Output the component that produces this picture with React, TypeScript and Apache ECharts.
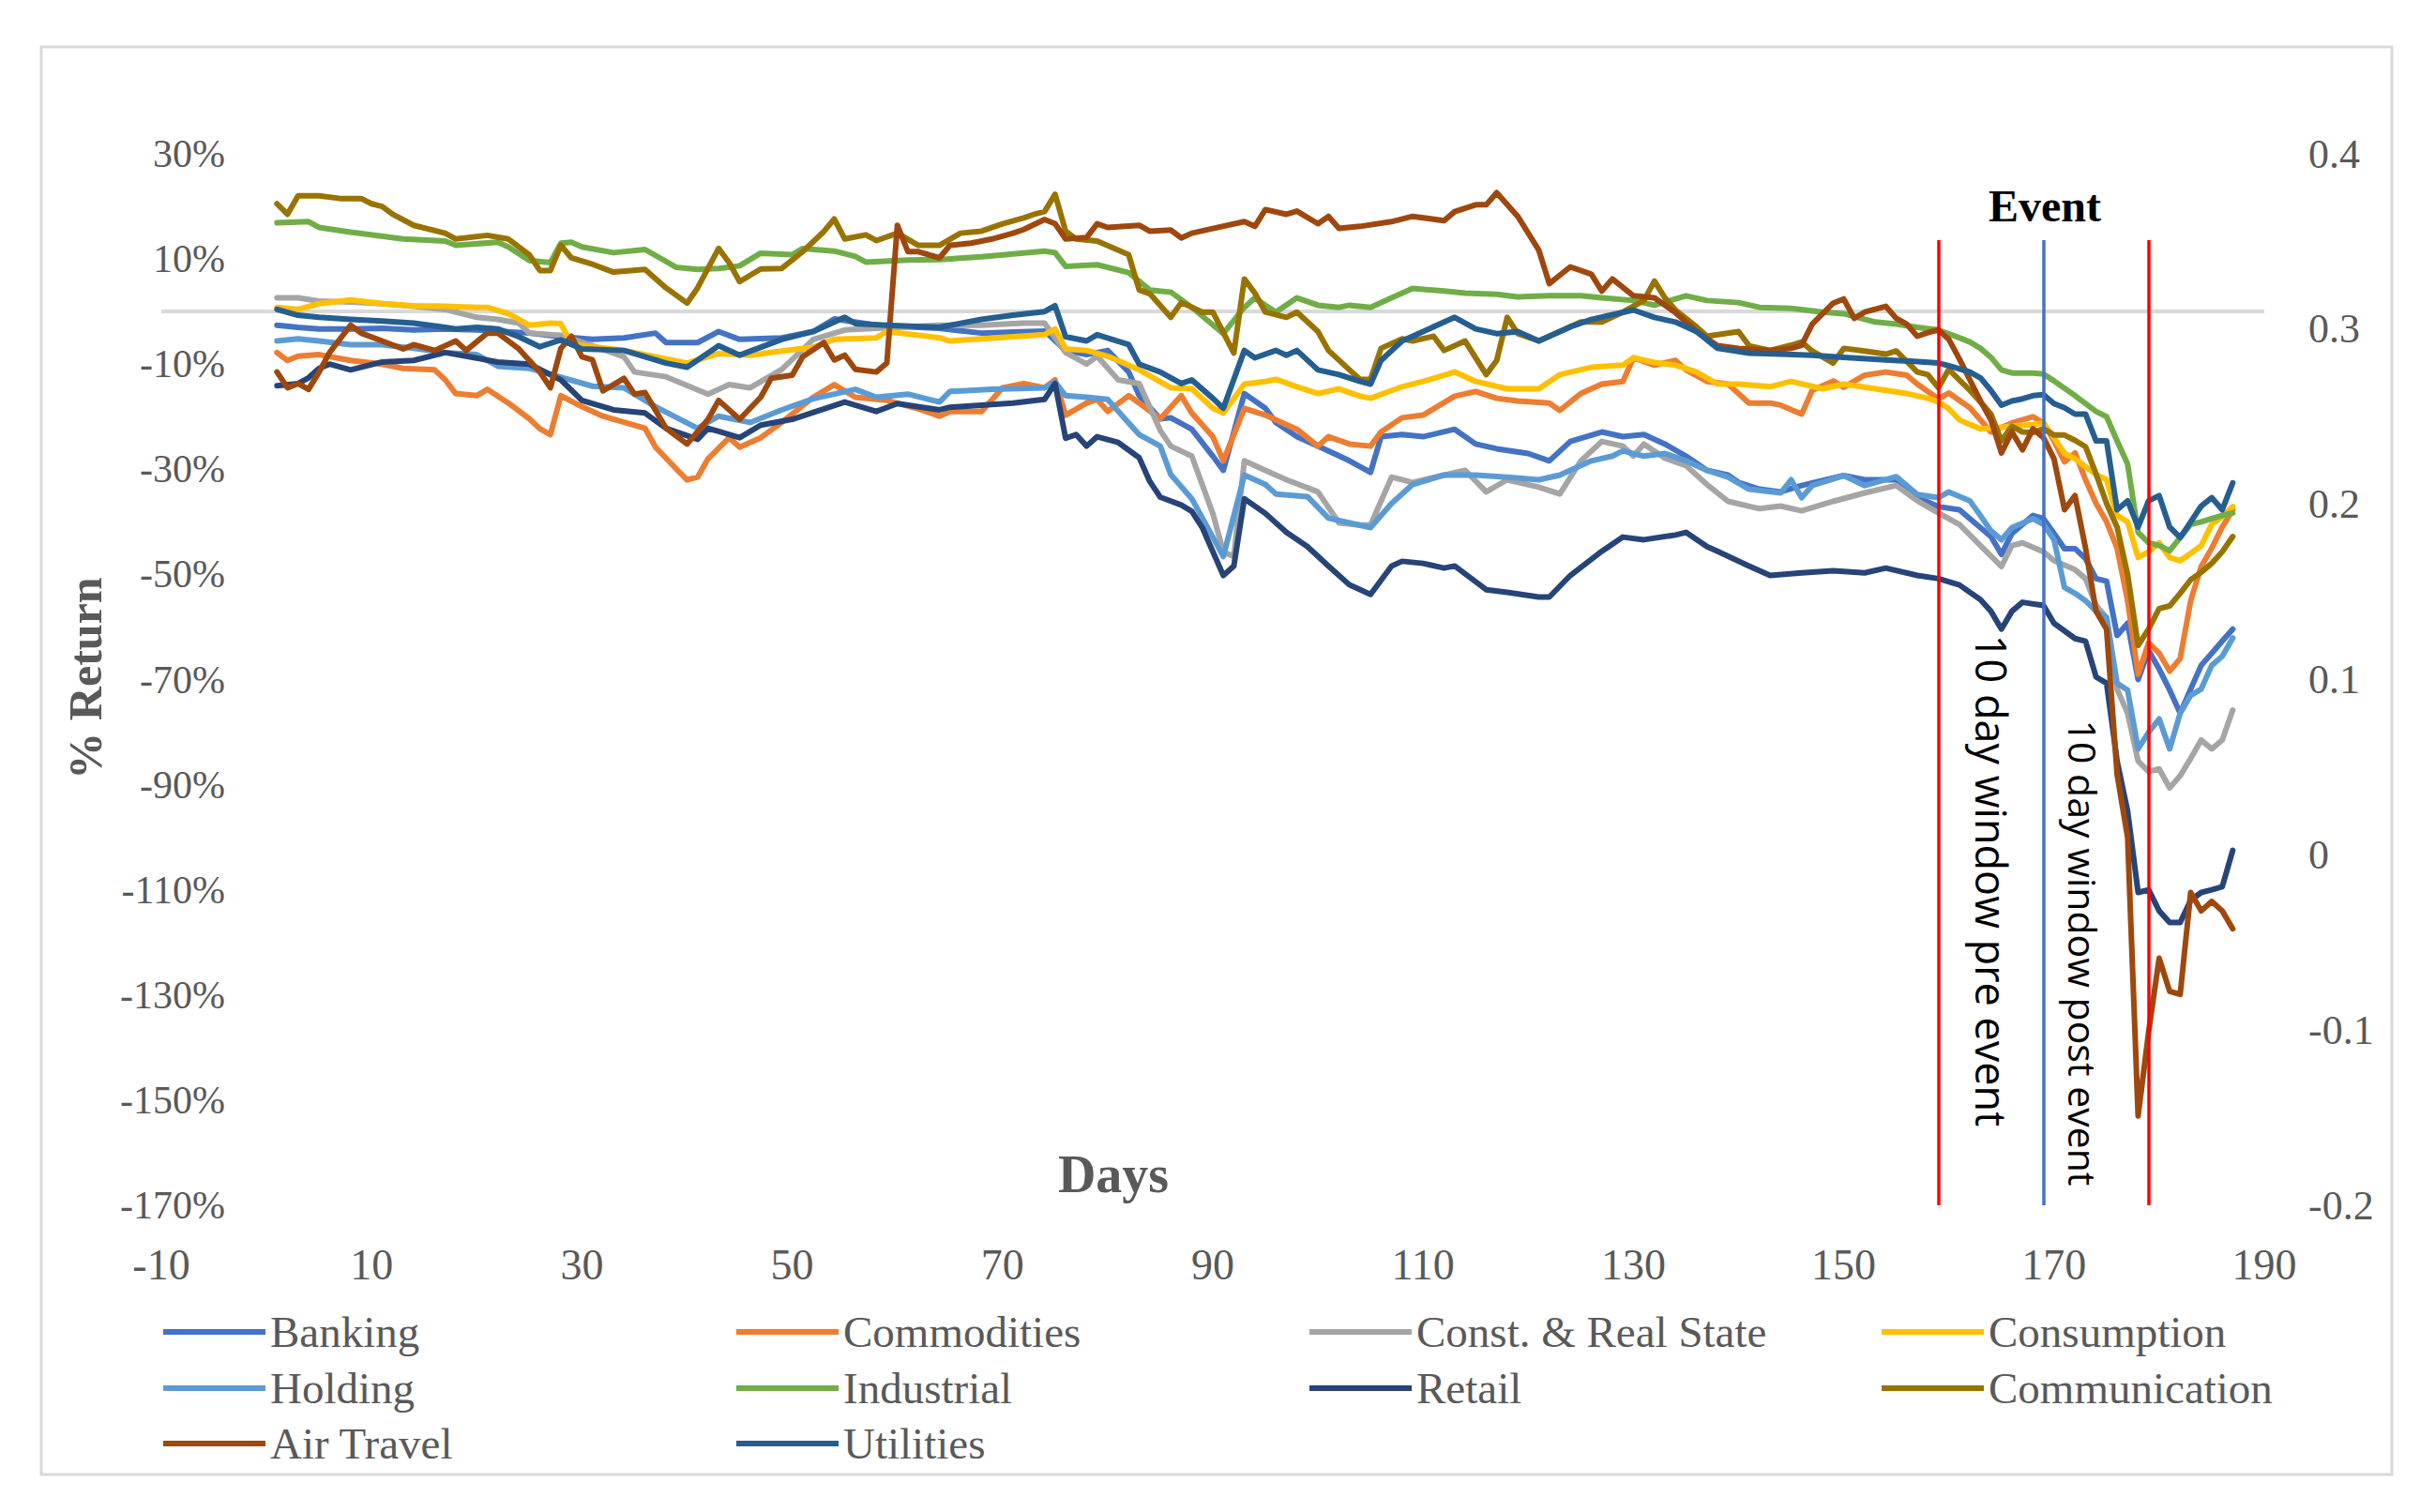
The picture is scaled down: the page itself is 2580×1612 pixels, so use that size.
import React, { useEffect, useRef } from "react";
import * as echarts from "echarts";

const seriesNames = [
  "Banking",
  "Commodities",
  "Const. & Real State",
  "Consumption",
  "Holding",
  "Industrial",
  "Retail",
  "Communication",
  "Air Travel",
  "Utilities",
];
const seriesColors = [
  "#4472C4",
  "#ED7D31",
  "#A5A5A5",
  "#FFC000",
  "#5B9BD5",
  "#70AD47",
  "#264478",
  "#997300",
  "#9E480E",
  "#255E91",
];

const banking = [
  [1, -2.6], [3, -3], [5, -3.3], [8, -3.3], [11, -3.2], [14, -3.5], [17, -3.3], [20, -3.5], [22, -3.7], [25, -4.1],
  [28, -4.8], [31, -5.3], [34, -5], [37, -4.1], [38, -5.9], [41, -5.9], [43, -3.8], [45, -5.3], [49, -5], [52, -3.8],
  [54, -1.4], [58, -2.6], [61, -2.9], [64, -3.2], [68, -4.1], [71, -3.9], [74, -3.7], [76, -7.4], [78, -8.2], [80, -7.4],
  [82, -11.5], [83, -16], [85, -20.4], [86, -20.2], [88, -22.4], [90, -27.5], [91, -30.2], [93, -15.6], [95, -18.4], [96, -21.1],
  [98, -23.8], [101, -26.5], [103, -28.4], [105, -30.6], [106, -23.8], [108, -23.4], [110, -23.8], [113, -22.4], [115, -25.2], [117, -26.1],
  [120, -27], [122, -28.4], [124, -24.7], [127, -22.9], [129, -23.8], [131, -23.4], [133, -25.2], [135, -27.5], [137, -30.2], [139, -31.1],
  [140, -32.5], [142, -33.8], [144, -34.3], [146, -33.1], [147, -32.6], [150, -31.2], [152, -32], [155, -32], [157, -35.4], [159, -37.1],
  [161, -37.7], [163, -41.1], [164, -42.8], [165, -46.2], [166, -42.2], [168, -38.8], [169, -39.4], [170, -42.2], [171, -45.1], [172, -45.1],
  [173, -47], [174, -50.8], [175, -51.3], [176, -61.6], [177, -59.3], [178, -70], [179, -64.5], [180, -68], [181, -72], [182, -76.4],
  [183, -71.8], [184, -67.3], [185, -65], [186, -62.7], [187, -60.4],
];

const commodities = [
  [1, -7.8], [2, -9.3], [3, -8.5], [5, -8.2], [8, -9.3], [11, -10], [13, -10.8], [16, -11.1], [17, -13], [18, -15.6],
  [20, -16], [21, -14.8], [23, -17.4], [25, -20.4], [26, -22.3], [27, -23.4], [28, -16], [30, -18.1], [32, -19.9], [36, -22.2],
  [37, -25.8], [39, -30], [40, -32], [41, -31.5], [42, -28], [44, -24], [45, -25.8], [47, -24], [49, -21.1], [52, -16.3],
  [54, -13.9], [56, -16.3], [59, -16.9], [62, -18.5], [64, -19.9], [65, -19], [68, -19], [70, -14.5], [72, -13.7], [74, -14.5],
  [75, -13], [76, -19.7], [78, -17.4], [79, -16.7], [80, -19], [82, -16], [83, -17.4], [85, -20.4], [87, -16], [88, -19.3],
  [90, -23.8], [91, -28.4], [93, -18.4], [95, -19.7], [97, -21.5], [98, -22.4], [100, -25.6], [101, -23.8], [103, -25.2], [105, -25.6],
  [106, -22.9], [108, -20.2], [110, -19.7], [113, -16.1], [115, -15.2], [117, -16.5], [119, -17], [122, -17.4], [123, -18.8], [125, -15.6],
  [127, -13.8], [129, -13.3], [130, -8.8], [132, -10.2], [134, -9.3], [135, -11.1], [137, -13.3], [139, -13.8], [141, -17.4], [143, -17.4],
  [144, -17.8], [146, -19.5], [147, -15], [149, -13.2], [150, -14.4], [152, -12.1], [154, -11.5], [156, -12.1], [157, -13.8], [159, -16.6],
  [160, -15.5], [162, -18.3], [164, -22.9], [166, -21.2], [168, -20], [169, -21.2], [170, -24.6], [171, -28.6], [172, -26.9], [173, -32],
  [174, -36.5], [175, -40], [176, -45], [177, -55], [178, -69], [179, -63], [180, -65], [181, -68.4], [182, -66], [183, -55],
  [184, -48.5], [185, -45], [186, -41], [187, -37.7],
];

const construction = [
  [1, 2.6], [3, 2.6], [5, 2], [8, 1.8], [11, 1.5], [14, 1], [17, 0.4], [20, -1.1], [22, -1.5], [24, -2.2],
  [25, -4.1], [28, -4.5], [31, -6.5], [34, -8.6], [35, -11.5], [38, -12.4], [42, -15.7], [44, -13.9], [46, -14.5], [49, -11],
  [52, -5.3], [55, -3.5], [58, -3.2], [61, -2.9], [64, -2.6], [68, -2.6], [72, -2.2], [74, -2.2], [76, -7.8], [78, -10],
  [79, -8.5], [81, -13], [83, -13.7], [85, -22.6], [86, -25.6], [88, -27.5], [90, -38.4], [91, -45.7], [92, -46.6], [93, -28.4],
  [95, -30.2], [97, -32], [100, -34.3], [102, -40.2], [104, -40.6], [105, -40.6], [107, -31.5], [109, -32.5], [112, -31.1], [114, -30.2],
  [116, -34.3], [118, -32], [121, -33.4], [123, -34.7], [125, -28.4], [127, -24.7], [129, -25.6], [130, -27.5], [131, -25.2], [133, -27.9],
  [135, -29.3], [137, -32.9], [139, -36.1], [142, -37.5], [144, -37], [146, -37.9], [149, -36.1], [152, -34.5], [155, -33.1], [157, -36],
  [159, -38.3], [161, -40.5], [163, -44.5], [165, -48.5], [166, -44.5], [167, -44], [169, -45.7], [170, -47.4], [172, -49.1], [173, -50.8],
  [174, -55.9], [175, -58.2], [176, -71.8], [177, -76.4], [178, -85.5], [179, -87.5], [180, -87], [181, -90.6], [182, -88.3], [183, -85],
  [184, -81.5], [185, -83.2], [186, -81.5], [187, -75.8],
];

const consumption = [
  [1, 0.8], [3, 0.4], [5, 1.5], [8, 2.2], [11, 1.5], [14, 1.1], [17, 1], [20, 0.8], [21, 0.8], [23, -0.4],
  [25, -2.6], [27, -2.2], [28, -2.3], [29, -6.2], [34, -7.4], [37, -8.6], [40, -9.8], [43, -8], [46, -8.3], [49, -7.5],
  [52, -6.8], [54, -5.3], [58, -5], [59, -3.8], [62, -4.5], [64, -5], [65, -5.6], [68, -5.2], [71, -4.8], [74, -4.4],
  [75, -3.3], [76, -7.1], [78, -7.4], [80, -8.5], [83, -11.1], [84, -12.2], [86, -14.5], [88, -14.7], [90, -18.4], [91, -19.3],
  [93, -13.8], [95, -13.3], [96, -12.9], [98, -14.3], [100, -15.6], [102, -14.7], [104, -16.1], [105, -16.5], [108, -14.3], [110, -13.3],
  [113, -11.5], [115, -13.3], [118, -14.7], [121, -14.7], [123, -12], [126, -10.6], [129, -10.2], [130, -8.8], [132, -9.7], [134, -10.2],
  [136, -11.5], [138, -13.8], [140, -13.8], [143, -14.3], [145, -13.3], [148, -14.7], [150, -13.8], [153, -14.7], [156, -15.6], [158, -16.5],
  [159, -17.2], [160, -18.5], [161, -20.6], [162, -21.5], [163, -22.3], [165, -22], [166, -21.8], [168, -21.5], [169, -21.2], [170, -24],
  [171, -27], [172, -28], [173, -29.5], [174, -31], [175, -32], [176, -38.8], [177, -40], [178, -46.8], [179, -45.7], [180, -44],
  [181, -46.8], [182, -47.4], [183, -46], [184, -44.5], [185, -40.5], [186, -39], [187, -37.1],
];

const holding = [
  [1, -5.6], [3, -5.2], [5, -5.6], [8, -6.3], [11, -6.3], [14, -7], [17, -7.8], [20, -8.2], [22, -10.4], [25, -10.8],
  [28, -12.5], [31, -14.2], [34, -14.5], [37, -18.1], [41, -22.2], [43, -19.9], [46, -21.1], [49, -18.7], [52, -16.6], [56, -14.8],
  [58, -16.3], [61, -15.7], [64, -17.2], [65, -15.2], [69, -14.8], [74, -14.5], [75, -13.4], [76, -16], [78, -16.3], [80, -16.7],
  [82, -21.2], [83, -23.4], [85, -25.6], [86, -31], [88, -35.6], [90, -42.9], [91, -46.6], [93, -31.1], [95, -32.9], [96, -34.7],
  [99, -35.2], [101, -39.3], [103, -40.2], [105, -41.1], [107, -36.5], [109, -32.9], [112, -31.1], [115, -31.1], [118, -31.5], [121, -32],
  [123, -31.1], [126, -28.4], [128, -27.5], [129, -26.5], [131, -27.5], [133, -27], [135, -28.4], [137, -30.2], [139, -31.5], [141, -33.8],
  [144, -34.5], [145, -32], [146, -35.4], [147, -33.1], [150, -31.2], [152, -33.1], [155, -31.4], [157, -34.8], [159, -35.4], [160, -34.3],
  [162, -36], [163, -38.8], [164, -41.7], [165, -43.4], [166, -41.1], [168, -39.4], [169, -40.5], [170, -43.4], [171, -52.5], [172, -53.6],
  [173, -55], [174, -57], [175, -58.2], [176, -70.7], [177, -72], [178, -83.2], [179, -80], [180, -77.5], [181, -83.2], [182, -76.4],
  [183, -73], [184, -71.8], [185, -67.3], [186, -65.6], [187, -62.1],
];

const industrial = [
  [1, 16.9], [4, 17.1], [5, 16], [8, 15.1], [13, 13.8], [17, 13.4], [18, 12.6], [22, 13.2], [23, 12.3], [25, 9.7],
  [27, 9.3], [28, 13], [29, 13.2], [30, 12.3], [33, 11.2], [36, 11.8], [39, 8.4], [41, 8], [43, 8.2], [45, 8.7],
  [47, 11.1], [50, 10.8], [51, 12], [54, 11.5], [56, 10.5], [57, 9.4], [61, 9.8], [64, 9.9], [68, 10.4], [74, 11.5],
  [75, 11.2], [76, 8.6], [79, 8.9], [82, 7.4], [84, 4.1], [86, 3.7], [88, 0.8], [91, -4.2], [93, 0.8], [94, 2.6],
  [95, 1.2], [96, -0.1], [98, 2.6], [100, 1.2], [102, 0.8], [103, 1.2], [105, 0.8], [107, 2.6], [109, 4.4], [112, 3.9],
  [114, 3.5], [117, 3.3], [119, 2.8], [122, 3], [125, 3], [127, 2.6], [130, 2.1], [132, 1.2], [135, 3], [137, 2.1],
  [140, 1.7], [142, 0.8], [145, 0.6], [148, -0.1], [150, -0.4], [153, -2], [155, -2.4], [157, -3], [159, -3.5], [161, -5],
  [162, -5.8], [163, -7], [164, -8.7], [165, -11.1], [166, -11.7], [168, -11.7], [169, -11.9], [170, -13.2], [172, -16], [174, -19],
  [175, -20], [176, -24.6], [177, -29], [178, -42], [179, -44], [180, -44.5], [181, -45.5], [182, -43], [183, -40.5], [184, -40],
  [185, -39.4], [186, -38.8], [187, -38.3],
];

const retail = [
  [1, -14.1], [3, -13.7], [4, -12.6], [5, -10.8], [6, -10], [8, -11.1], [11, -9.6], [14, -9.3], [17, -7.8], [19, -8.5],
  [22, -9.6], [25, -10], [28, -13], [30, -16.9], [33, -18.7], [36, -19.3], [38, -22.2], [41, -24.3], [42, -22.2], [45, -24],
  [47, -21.6], [50, -20.5], [55, -17.2], [58, -19], [60, -17.5], [64, -18.7], [65, -18.2], [68, -17.8], [71, -17.4], [74, -16.7],
  [75, -13.7], [76, -24.1], [77, -23.4], [78, -25.6], [79, -23.8], [81, -24.9], [83, -27.8], [84, -32.3], [85, -35.3], [87, -36.8],
  [88, -38], [89, -41.1], [91, -50.2], [92, -48.4], [93, -35.6], [95, -38.4], [97, -42], [99, -44.7], [101, -48.4], [103, -52],
  [105, -53.8], [107, -48.4], [108, -47.5], [110, -47.9], [112, -48.8], [113, -48.4], [116, -52.9], [118, -53.4], [121, -54.3], [122, -54.3],
  [124, -50.2], [127, -45.6], [129, -42.9], [131, -43.4], [134, -42.5], [135, -42], [137, -44.7], [138, -45.6], [141, -48.4], [143, -50.2],
  [146, -49.7], [149, -49.3], [152, -49.7], [154, -48.8], [157, -50.2], [159, -50.8], [161, -52], [163, -54.8], [164, -57], [165, -60.4],
  [166, -57], [167, -55.3], [169, -55.9], [170, -59.3], [172, -62.2], [173, -62.7], [174, -69.5], [175, -70.7], [176, -85.5], [177, -95],
  [178, -110.5], [179, -110], [180, -114], [181, -116.2], [182, -116.2], [183, -112], [184, -110.5], [185, -110], [186, -109.4], [187, -102.5],
];

const communication = [
  [1, 20.5], [2, 18.5], [3, 22], [5, 22], [7, 21.5], [9, 21.5], [10, 20.5], [11, 20], [12, 18.5], [14, 16.4],
  [17, 14.9], [18, 13.8], [21, 14.5], [23, 13.8], [25, 10.8], [26, 7.8], [27, 7.8], [28, 12.6], [29, 10.2], [31, 9],
  [33, 7.5], [36, 8], [38, 4.5], [40, 1.6], [41, 4.5], [43, 12], [44, 9.3], [45, 5.7], [47, 8.1], [49, 8.2],
  [51, 11.4], [53, 15.2], [54, 17.6], [55, 13.8], [57, 14.6], [58, 13.5], [60, 14.9], [62, 12.6], [64, 12.6], [66, 14.9],
  [68, 15.3], [70, 16.7], [72, 17.8], [73, 18.5], [74, 19], [75, 22.3], [76, 15.3], [77, 13.8], [79, 13.4], [82, 10.8],
  [83, 4.1], [84, 3.4], [86, -1.1], [87, 1.7], [89, -0.1], [90, -0.1], [92, -7.9], [93, 6.2], [94, 3.5], [95, -0.1],
  [97, -1.1], [98, -0.1], [100, -3.8], [101, -7.4], [103, -11.1], [104, -12.9], [105, -12.9], [106, -7], [108, -5.2], [109, -5.6],
  [111, -4.7], [112, -7.4], [114, -5.6], [116, -12], [117, -9.3], [118, -1.1], [119, -4.2], [121, -5.6], [123, -3.8], [125, -2],
  [127, -2], [129, -0.1], [131, 2.1], [132, 5.8], [133, 2.6], [134, 0.3], [136, -2.9], [137, -4.7], [140, -3.8], [141, -6.5],
  [143, -7.4], [145, -6.4], [146, -5.8], [147, -7.5], [149, -9.8], [150, -7], [152, -7.5], [154, -8.1], [155, -7.5], [157, -11.5],
  [158, -12], [159, -14.5], [160, -11], [161, -13], [162, -15], [163, -17.2], [164, -19.5], [165, -24.6], [166, -21.8], [167, -22.9],
  [168, -23], [169, -22.3], [170, -23.5], [171, -23.5], [172, -24.5], [173, -25.7], [174, -30.9], [175, -36.5], [176, -41], [177, -50],
  [178, -63.5], [179, -60.4], [180, -56.5], [181, -56], [182, -53.6], [183, -51], [184, -49.6], [185, -47.9], [186, -45.7], [187, -42.8],
];

const airTravel = [
  [1, -11.5], [2, -14.5], [3, -13.7], [4, -14.8], [5, -11.5], [6, -7.8], [8, -2.6], [9, -4.1], [11, -5.6], [13, -7.1],
  [14, -6.3], [16, -7.4], [18, -5.6], [19, -7.4], [21, -4.1], [22, -4.1], [24, -7.1], [26, -11.5], [27, -14.5], [28, -7],
  [29, -4.7], [30, -8.6], [31, -9.2], [32, -15.1], [34, -12.7], [35, -15.7], [36, -15.4], [38, -22.2], [40, -25.2], [42, -20.5],
  [43, -16.9], [45, -20.5], [47, -16.3], [48, -12.7], [50, -12.1], [51, -8.6], [53, -5.9], [54, -9.2], [55, -8.3], [56, -11],
  [58, -11.5], [59, -9.8], [60, 16.4], [61, 11.4], [62, 11.4], [64, 10.2], [65, 12.6], [67, 13], [69, 13.8], [71, 14.9],
  [72, 15.6], [74, 17.5], [75, 16.7], [76, 13.8], [78, 14.1], [79, 16.7], [80, 16], [83, 16.4], [84, 15.3], [86, 15.5],
  [87, 14], [88, 14.9], [90, 15.8], [93, 17.1], [94, 16.2], [95, 19.4], [97, 18.5], [98, 19.1], [100, 16.7], [101, 18.1],
  [102, 15.8], [104, 16.2], [107, 17.1], [109, 18.1], [112, 17.3], [113, 19], [115, 20.3], [116, 20.3], [117, 22.6], [119, 18.1],
  [121, 11.7], [122, 5.3], [124, 8.5], [126, 7.1], [127, 3.9], [128, 6.2], [130, 3], [132, 2.6], [134, -0.2], [136, -3.8],
  [138, -6.5], [140, -7], [143, -7.4], [145, -7], [146, -6.4], [147, -2.4], [149, 1.6], [150, 2.4], [151, -1.3], [152, -0.1],
  [154, 1], [155, -1.3], [156, -2.4], [157, -4.7], [158, -4], [159, -3.5], [160, -5.3], [161, -9], [162, -13], [163, -17],
  [164, -20.6], [165, -26.9], [166, -22.9], [167, -26.3], [168, -22.3], [169, -24], [170, -28], [171, -37.7], [172, -35], [173, -45],
  [174, -57], [175, -60.4], [176, -88], [177, -100], [178, -153], [179, -137], [180, -123], [181, -129.3], [182, -129.9], [183, -110.5],
  [184, -114], [185, -112.2], [186, -114], [187, -117.4],
];

const utilities = [
  [1, 0.4], [3, -0.7], [5, -1.1], [8, -1.5], [11, -1.8], [14, -2.2], [17, -3], [18, -3.3], [20, -3], [22, -3.3],
  [24, -4.8], [26, -6.7], [28, -5.4], [30, -7.1], [34, -7.4], [38, -9.8], [40, -10.6], [43, -6.5], [45, -8.3], [49, -5.3],
  [52, -3.8], [55, -1.1], [56, -2.3], [59, -2.6], [64, -3], [68, -1.5], [71, -0.7], [74, 0], [75, 1.1], [76, -4.8],
  [78, -5.6], [79, -4.4], [82, -6.3], [83, -10], [85, -11.5], [87, -13.7], [88, -13], [90, -16.5], [91, -18.4], [93, -7.4],
  [94, -8.8], [96, -7.4], [97, -8.3], [98, -7.4], [100, -11.1], [102, -12], [104, -13.3], [105, -13.8], [106, -9.3], [108, -5.6],
  [110, -3.8], [113, -1.1], [115, -3.3], [117, -4.2], [119, -3.8], [121, -5.6], [122, -4.7], [124, -2.9], [126, -1.5], [128, -0.6],
  [130, 0.3], [132, -1.1], [134, -2], [136, -3.8], [138, -7], [141, -7.9], [144, -8.1], [147, -8.3], [150, -8.7], [154, -9.2],
  [157, -9.5], [159, -9.8], [160, -10.3], [162, -11.5], [163, -12.6], [164, -15], [165, -17.8], [166, -17], [167, -16.6], [168, -16],
  [169, -15.8], [170, -17.5], [171, -18.3], [172, -19.5], [173, -19.5], [174, -24.6], [175, -24.6], [176, -37.7], [177, -36], [178, -41],
  [179, -36], [180, -35], [181, -41], [182, -43], [183, -40], [184, -37], [185, -35.4], [186, -37.7], [187, -32.6],
];

const seriesValues = [
  banking, commodities, construction, consumption, holding,
  industrial, retail, communication, airTravel, utilities,
];

const xTickLabels = [-10, 10, 30, 50, 70, 90, 110, 130, 150, 170, 190];
const leftTickLabels = [-170, -150, -130, -110, -90, -70, -50, -30, -10, 10, 30];
const eventDays = [159, 169, 179];
const eventLineTop = 13.6;

const FONT_SERIF = "'Liberation Serif', 'DejaVu Serif', serif";
const FONT_SANS = "'Open Sans', 'Noto Sans', sans-serif";
const GREY_TEXT = "#595959";

export default function App() {
  const ref = useRef<HTMLDivElement>(null);

  useEffect(() => {
    if (!ref.current) return;
    const chart = echarts.init(ref.current, undefined, { renderer: "svg" });

    const legendCols = [174, 785, 1396, 2006];
    const legendRows = [1420, 1480, 1539];

    const legends = seriesNames.map((name, i) => ({
      data: [name],
      left: legendCols[i % 4],
      top: legendRows[Math.floor(i / 4)] - 24,
      icon: "rect",
      itemWidth: 109,
      itemHeight: 6,
      itemGap: 0,
      padding: 0,
      selectedMode: false,
      itemStyle: { borderWidth: 0 },
      textStyle: {
        fontSize: 47,
        lineHeight: 48,
        color: GREY_TEXT,
        fontFamily: FONT_SERIF,
      },
    }));

    const eventColors = ["#FF0000", "#4472C4", "#FF0000"];

    const series: any[] = seriesValues.map((vals, i) => ({
      name: seriesNames[i],
      type: "line",
      data: vals,
      showSymbol: false,
      symbol: "none",
      lineStyle: { color: seriesColors[i], width: 6, cap: "round", join: "round" },
      itemStyle: { color: seriesColors[i] },
      z: 2 + i * 0.01,
    }));

    series[0].markLine = {
      silent: true,
      symbol: ["none", "none"],
      z: 1,
      label: { show: false },
      lineStyle: { color: "#D9D9D9", width: 4, type: "solid" },
      data: [{ yAxis: 0 }],
    };

    series[9].markLine = {
      silent: true,
      symbol: ["none", "none"],
      z: 6,
      label: { show: false },
      data: eventDays.map((d, i) => [
        { coord: [d, eventLineTop], lineStyle: { color: eventColors[i], width: 3.5, type: "solid" } },
        { coord: [d, -170] },
      ]),
    };

    const option: any = {
      animation: false,
      backgroundColor: "#FFFFFF",
      grid: { left: 172, right: 166, top: 164, bottom: 327, containLabel: false },
      legend: legends,
      xAxis: {
        type: "value",
        min: -10,
        max: 190,
        interval: 10,
        axisLine: { show: false },
        axisTick: { show: false },
        splitLine: { show: false },
        axisLabel: {
          margin: 40,
          fontSize: 46,
          color: GREY_TEXT,
          fontFamily: FONT_SERIF,
          formatter: (v: number) => (xTickLabels.includes(Math.round(v)) ? String(Math.round(v)) : ""),
        },
      },
      yAxis: [
        {
          type: "value",
          min: -170,
          max: 30,
          interval: 10,
          axisLine: { show: false },
          axisTick: { show: false },
          splitLine: { show: false },
          axisLabel: {
            margin: -68,
            fontSize: 42,
            color: GREY_TEXT,
            fontFamily: FONT_SERIF,
            formatter: (v: number) => (leftTickLabels.includes(Math.round(v)) ? `${Math.round(v)}%` : ""),
          },
        },
        {
          type: "value",
          position: "right",
          min: -0.2,
          max: 0.4,
          interval: 0.1,
          axisLine: { show: false },
          axisTick: { show: false },
          splitLine: { show: false },
          axisLabel: {
            margin: 47,
            fontSize: 44,
            color: GREY_TEXT,
            fontFamily: FONT_SERIF,
            formatter: (v: number) => String(Math.round(v * 10) / 10),
          },
        },
      ],
      graphic: [
        {
          type: "rect",
          shape: { x: 44, y: 50, width: 2506, height: 1522 },
          style: { fill: "none", stroke: "#D9D9D9", lineWidth: 3 },
          silent: true,
          z: -1,
        },
        {
          type: "text",
          x: 2180,
          y: 219,
          style: {
            text: "Event",
            fontSize: 48,
            fontWeight: "bold",
            fontFamily: FONT_SERIF,
            fill: "#000000",
            align: "center",
            verticalAlign: "middle",
          },
        },
        {
          type: "text",
          x: 1187,
          y: 1252,
          style: {
            text: "Days",
            fontSize: 56,
            fontWeight: "bold",
            fontFamily: FONT_SERIF,
            fill: GREY_TEXT,
            align: "center",
            verticalAlign: "middle",
          },
        },
        {
          type: "text",
          x: 91,
          y: 723,
          rotation: Math.PI / 2,
          style: {
            text: "% Return",
            fontSize: 50,
            fontWeight: "bold",
            fontFamily: FONT_SERIF,
            fill: GREY_TEXT,
            align: "center",
            verticalAlign: "middle",
          },
        },
        {
          type: "text",
          x: 2123,
          y: 939,
          rotation: -Math.PI / 2,
          style: {
            text: "10 day window pre event",
            fontSize: 45,
            fontFamily: FONT_SANS,
            fill: "#000000",
            align: "center",
            verticalAlign: "middle",
          },
        },
        {
          type: "text",
          x: 2221,
          y: 1016,
          rotation: -Math.PI / 2,
          style: {
            text: "10 day window post event",
            fontSize: 41,
            fontFamily: FONT_SANS,
            fill: "#000000",
            align: "center",
            verticalAlign: "middle",
          },
        },
      ],
      series,
    };

    chart.setOption(option);
    return () => {
      chart.dispose();
    };
  }, []);

  return (
    <div
      ref={ref}
      style={{ position: "absolute", left: 0, top: 0, width: 2580, height: 1612, background: "#FFFFFF" }}
    />
  );
}
